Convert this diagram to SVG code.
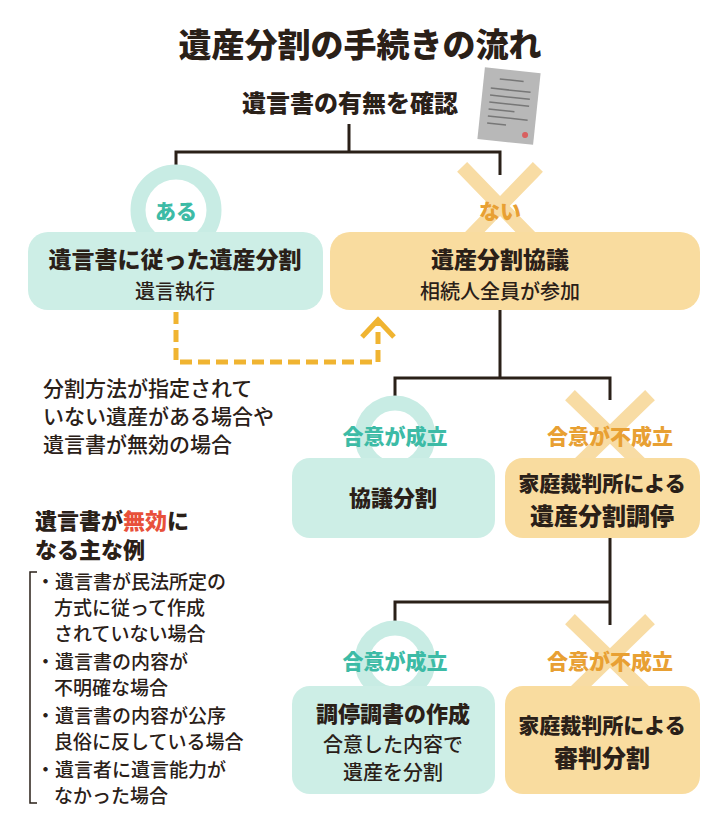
<svg xmlns="http://www.w3.org/2000/svg" width="720" height="820" viewBox="0 0 720 820">
<style>
text{font-family:"Noto Sans CJK JP","Noto Sans",sans-serif;fill:#2a2018;font-weight:500}
.b{font-weight:900}
.c{text-anchor:middle}
.t{fill:#3dbba6;font-weight:900;font-size:21px}
.o{fill:#e8a033;font-weight:900;font-size:21px}
.ln{stroke:#2a2018;stroke-width:3;fill:none}
.ring{fill:#fff;stroke:#c8ece4;stroke-width:15}
.x{stroke:#f8dca4;stroke-width:14;stroke-linecap:square}
.gb{fill:#cdeee6}
.ob{fill:#f9dc9f}
.m{font-size:19px}
</style>
<rect width="720" height="820" fill="#fff"/>
<text x="360" y="57" class="b c" font-size="33">遺産分割の手続きの流れ</text>
<text x="350" y="112" class="b c" font-size="24">遺言書の有無を確認</text>
<g id="doc" transform="rotate(6 508 106)">
<rect x="481" y="70" width="56" height="72" fill="#b8b8b8"/>
<g stroke="#777" stroke-width="1.5"><line x1="497" y1="80" x2="521" y2="80"/><line x1="489" y1="90" x2="529" y2="90"/><line x1="489" y1="97" x2="529" y2="97"/><line x1="489" y1="104" x2="529" y2="104"/><line x1="489" y1="111" x2="515" y2="111"/><line x1="489" y1="118" x2="529" y2="118"/><line x1="489" y1="125" x2="508" y2="125"/></g>
<circle cx="528" cy="133" r="3" fill="#d86060"/>
</g>
<g id="connectors">
<path class="ln" d="M349 124V152M176 175V152H500V175"/>
<path class="ln" d="M500 310V378M395 400V378H610V400"/>
<path class="ln" d="M610 538V602M395 625V602H610V625"/>
<path d="M176 312V362H378V322" fill="none" stroke="#f0b431" stroke-width="5" stroke-dasharray="12 6"/>
<path d="M362 337L378 320L394 337" fill="none" stroke="#f0b431" stroke-width="5"/>
</g>
<g id="aru"><circle cx="176" cy="210" r="38" class="ring"/><text x="176" y="219" class="t c" font-size="21">ある</text></g>
<g id="nai"><path class="x" d="M467 172L533 240M533 172L467 240"/><text x="500" y="219" class="o c">ない</text></g>
<g id="n1"><rect x="28" y="232" width="295" height="78" rx="20" class="gb"/><text x="175" y="268" class="b c" font-size="23">遺言書に従った遺産分割</text><text x="175" y="299" class="c" font-size="20">遺言執行</text></g>
<g id="n2"><rect x="330" y="232" width="370" height="78" rx="20" class="ob"/><text x="500" y="268" class="b c" font-size="23">遺産分割協議</text><text x="500" y="299" class="c" font-size="20">相続人全員が参加</text></g>
<g id="note1"><text x="43" y="396" font-size="21">分割方法が指定されて</text><text x="43" y="424" font-size="21">いない遺産がある場合や</text><text x="43" y="452" font-size="21">遺言書が無効の場合</text></g>
<g id="ok1"><circle cx="395" cy="436" r="33" class="ring"/><text x="395" y="444" class="t c">合意が成立</text></g>
<g id="ng1"><path class="x" d="M575 400L645 468M645 400L575 468"/><text x="610" y="444" class="o c">合意が不成立</text></g>
<g id="n3"><rect x="292" y="458" width="203" height="80" rx="18" class="gb"/><text x="393" y="506" class="b c" font-size="22">協議分割</text></g>
<g id="n4"><rect x="505" y="458" width="195" height="80" rx="18" class="ob"/><text x="602" y="491" class="b c" font-size="21">家庭裁判所による</text><text x="602" y="525" class="b c" font-size="24">遺産分割調停</text></g>
<g id="ok2"><circle cx="395" cy="661" r="33" class="ring"/><text x="395" y="669" class="t c">合意が成立</text></g>
<g id="ng2"><path class="x" d="M575 624L645 692M645 624L575 692"/><text x="610" y="669" class="o c">合意が不成立</text></g>
<g id="n5"><rect x="292" y="686" width="203" height="108" rx="18" class="gb"/><text x="393" y="722" class="b c" font-size="22">調停調書の作成</text><text x="393" y="752" class="c" font-size="20">合意した内容で</text><text x="393" y="780" class="c" font-size="20">遺産を分割</text></g>
<g id="n6"><rect x="505" y="686" width="195" height="108" rx="18" class="ob"/><text x="602" y="733" class="b c" font-size="21">家庭裁判所による</text><text x="602" y="767" class="b c" font-size="24">審判分割</text></g>
<g id="invalid">
<text x="35" y="529" class="b" font-size="22">遺言書が<tspan fill="#e8503a">無効</tspan>に</text>
<text x="35" y="558" class="b" font-size="22">なる主な例</text>
<path d="M37 572H30V803H37" fill="none" stroke="#2a2018" stroke-width="1.5"/>
<text x="36" y="589" class="m">・遺言書が民法所定の</text>
<text x="54" y="615" class="m">方式に従って作成</text>
<text x="54" y="641" class="m">されていない場合</text>
<text x="36" y="669" class="m">・遺言書の内容が</text>
<text x="54" y="695" class="m">不明確な場合</text>
<text x="36" y="723" class="m">・遺言書の内容が公序</text>
<text x="54" y="749" class="m">良俗に反している場合</text>
<text x="36" y="777" class="m">・遺言者に遺言能力が</text>
<text x="54" y="803" class="m">なかった場合</text>
</g>
</svg>
